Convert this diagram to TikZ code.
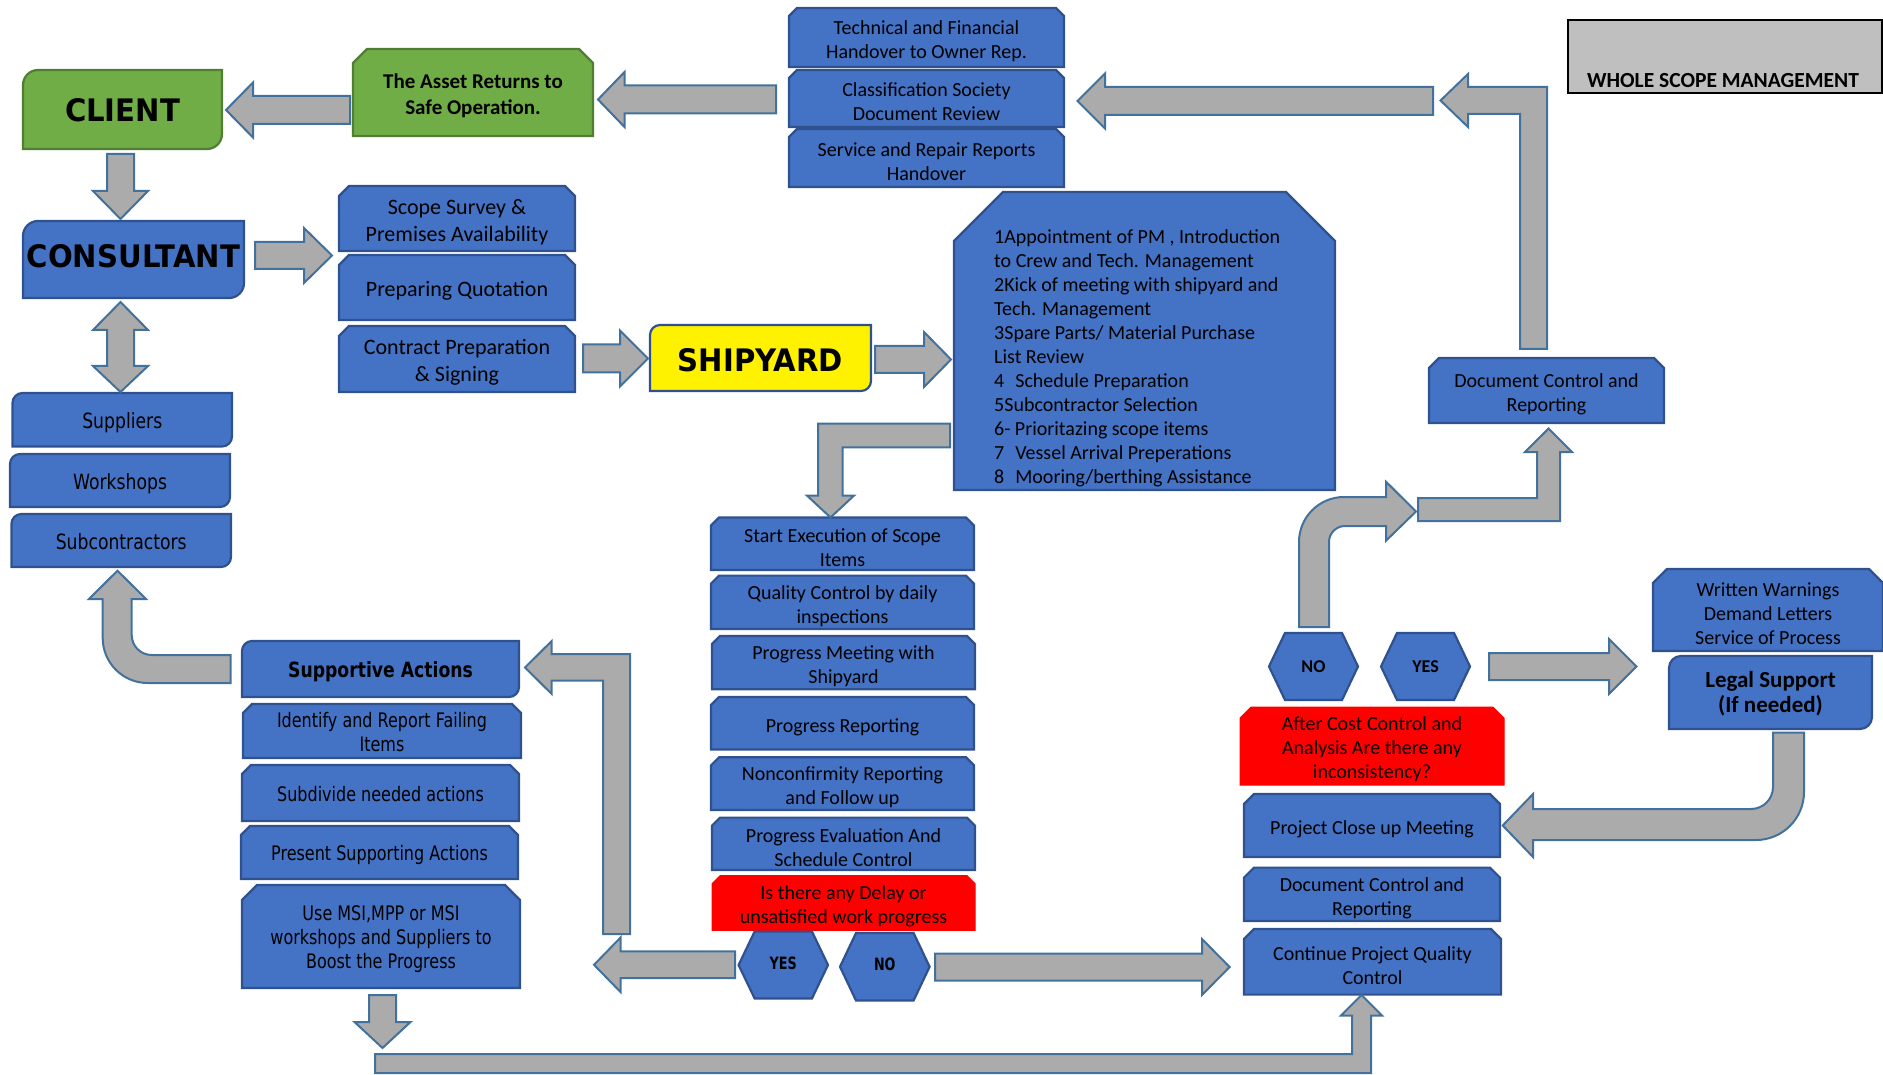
\documentclass[tikz,border=0pt]{standalone}
\usepackage{fontspec}
\usepackage{graphicx}
\setmainfont{Carlito}
\newfontfamily\vfont{DejaVu Sans}
\definecolor{bfill}{HTML}{4472C4}
\definecolor{bdraw}{HTML}{2F528F}
\definecolor{gfill}{HTML}{70AD47}
\definecolor{gdraw}{HTML}{507E32}
\definecolor{afill}{HTML}{ABABAB}
\definecolor{adraw}{HTML}{41719C}
\definecolor{wgray}{HTML}{BFBFBF}
\newcommand\sqz[2][0.8]{\scalebox{#1}[1]{\begin{tabular}{@{}c@{}}#2\end{tabular}}}
% snipped-top box: name x1 y1 x2 y2 snip shapestyle textstyle text
\newcommand\snipbox[9]{%
 \draw[#7] (#2,#5) -- (#2,#3+#6) -- (#2+#6,#3) -- (#4-#6,#3) -- (#4,#3+#6) -- (#4,#5) -- cycle;
 \node[txt,#8] (#1) at ({(#2+#4)/2},{(#3+#5)/2}) {#9};}
% round-diagonal box
\newcommand\rdbox[9]{%
 \draw[#7] (#2,#5) -- (#2,#3+#6) .. controls (#2,#3+0.4477*#6) and (#2+0.4477*#6,#3) .. (#2+#6,#3) -- (#4,#3) -- (#4,#5-#6) .. controls (#4,#5-0.4477*#6) and (#4-0.4477*#6,#5) .. (#4-#6,#5) -- cycle;
 \node[txt,#8] (#1) at ({(#2+#4)/2},{(#3+#5)/2}) {#9};}
% hexagon
\newcommand\hexbox[8]{%
 \draw[bbox] (#2,{(#3+#5)/2}) -- (#2+#6,#3) -- (#4-#6,#3) -- (#4,{(#3+#5)/2}) -- (#4-#6,#5) -- (#2+#6,#5) -- cycle;
 \node[txt,yshift=3.6pt,#7] (#1) at ({(#2+#4)/2},{(#3+#5)/2}) {#8};}
% block arrows: tail, tip, centre, shaft half, head half, head length
\newcommand\blkR[6]{\draw[blk] (#1,#3-#4) -- (#2-#6,#3-#4) -- (#2-#6,#3-#5) -- (#2,#3) -- (#2-#6,#3+#5) -- (#2-#6,#3+#4) -- (#1,#3+#4) -- cycle;}
\newcommand\blkL[6]{\draw[blk] (#1,#3-#4) -- (#2+#6,#3-#4) -- (#2+#6,#3-#5) -- (#2,#3) -- (#2+#6,#3+#5) -- (#2+#6,#3+#4) -- (#1,#3+#4) -- cycle;}
\newcommand\blkD[6]{\draw[blk] (#3-#4,#1) -- (#3-#4,#2-#6) -- (#3-#5,#2-#6) -- (#3,#2) -- (#3+#5,#2-#6) -- (#3+#4,#2-#6) -- (#3+#4,#1) -- cycle;}
\begin{document}
\begin{tikzpicture}[x=1pt,y=-1pt,
 bbox/.style={fill=bfill,draw=bdraw,line width=2.2pt,line join=miter},
 gbox/.style={fill=gfill,draw=gdraw,line width=2.2pt},
 rbox/.style={fill=red,draw=red,line width=1pt},
 ybox/.style={fill=yellow,draw=bdraw,line width=2.2pt},
 blk/.style={fill=afill,draw=adraw,line width=2pt,line join=miter},
 txt/.style={inner sep=0pt,align=center,yshift=-3.6pt,font=\fontsize{20}{24}\selectfont},
 calS/.style={font=\fontsize{22}{27}\selectfont},
 ver/.style={font=\vfont\fontsize{20}{24}\selectfont},
 verS/.style={font=\vfont\fontsize{21}{25}\selectfont},
 big/.style={font=\vfont\bfseries\fontsize{31}{36}\selectfont}]
\useasboundingbox (0,0) rectangle (1883,1075);
\clip (0,0) rectangle (1883,1075);

% ---- top row
\rdbox{client}{23}{70}{222}{149}{15}{gbox}{big,yshift=-1.2pt}{\sqz[0.94]{CLIENT}}
\snipbox{asset}{353}{49}{593}{136}{14}{gbox}{font=\bfseries\fontsize{21}{26}\selectfont}{The Asset Returns to\\Safe Operation.}
\snipbox{tech}{789}{8}{1064}{67}{8}{bbox}{}{Technical and Financial\\Handover to Owner Rep.}
\snipbox{class}{789}{70}{1064}{127}{8}{bbox}{}{Classification Society\\Document Review}
\snipbox{serv}{789}{129}{1064}{187}{8}{bbox}{}{Service and Repair Reports\\Handover}
\draw[fill=wgray,draw=black,line width=2.6pt] (1568,20) rectangle (1882,93);
\node[txt,yshift=2.4pt,font=\bfseries\fontsize{21.5}{26}\selectfont] (whole) at (1723,79) {WHOLE SCOPE MANAGEMENT};

% ---- consultant area
\rdbox{cons}{23}{221}{244}{298}{15}{bbox}{big,yshift=2.4pt}{\sqz[0.94]{CONSULTANT}}
\snipbox{scope}{339}{186}{575}{251}{10}{bbox}{calS}{Scope Survey \&\\Premises Availability}
\snipbox{quot}{339}{255}{575}{320}{10}{bbox}{calS}{Preparing Quotation}
\snipbox{contr}{339}{326}{575}{392}{10}{bbox}{calS}{Contract Preparation\\\& Signing}
\rdbox{ship}{650}{325}{871}{391}{10}{ybox}{big,yshift=-2.4pt}{\sqz[0.94]{SHIPYARD}}
\snipbox{doca}{1429}{358}{1664}{423}{10}{bbox}{}{Document Control and\\Reporting}

% big plan box
\draw[bbox] (954,490) -- (954,241) -- (1003,192) -- (1286,192) -- (1335,241) -- (1335,490) -- cycle;
\node[txt,yshift=2.4pt,anchor=west,align=left] (plan) at (994,357) {1Appointment of PM , Introduction\\to Crew and Tech. Management\\2Kick of meeting with shipyard and\\Tech. Management\\3Spare Parts/ Material Purchase\\List Review\\4\hspace{11pt}Schedule Preparation\\5Subcontractor Selection\\6- Prioritazing scope items\\7\hspace{11pt}Vessel Arrival Preperations\\8\hspace{11pt}Mooring/berthing Assistance};

% ---- suppliers
\rdbox{supp}{12.5}{393}{232}{446.5}{10}{bbox}{verS}{\sqz[0.82]{Suppliers}}
\rdbox{work}{10}{454}{230}{507}{10}{bbox}{verS}{\sqz[0.82]{Workshops}}
\rdbox{subc}{11.4}{514}{231}{567}{10}{bbox}{verS}{\sqz[0.82]{Subcontractors}}

% ---- supportive actions
\rdbox{supa}{242}{641}{519}{697}{10}{bbox}{font=\vfont\bfseries\fontsize{21}{25}\selectfont}{\sqz[0.82]{Supportive Actions}}
\snipbox{ident}{243}{704}{521}{758}{9}{bbox}{ver}{\sqz{Identify and Report Failing\\Items}}
\snipbox{subd}{242}{765}{519}{821}{9}{bbox}{ver}{\sqz{Subdivide needed actions}}
\snipbox{pres}{241}{826}{518}{879}{9}{bbox}{ver}{\sqz{Present Supporting Actions}}
\snipbox{msi}{242}{885}{520}{988}{15}{bbox}{ver}{\sqz{Use MSI,MPP or MSI\\workshops and Suppliers to\\Boost the Progress}}

% ---- centre column
\snipbox{start}{711}{517.5}{974}{570}{8}{bbox}{}{Start Execution of Scope\\Items}
\snipbox{qc}{711}{575.6}{974}{629}{8}{bbox}{}{Quality Control by daily\\inspections}
\snipbox{meet}{712}{636}{975}{689.3}{8}{bbox}{}{Progress Meeting with\\Shipyard}
\snipbox{prep}{711}{697}{974}{749.5}{8}{bbox}{}{Progress Reporting}
\snipbox{ncr}{711}{757.3}{974}{810}{8}{bbox}{}{Nonconfirmity Reporting\\and Follow up}
\snipbox{eval}{712}{817.6}{975}{870}{8}{bbox}{}{Progress Evaluation And\\Schedule Control}
\snipbox{delay}{712}{875.7}{975}{930.3}{8}{rbox}{}{Is there any Delay or\\unsatisfied work progress}
\hexbox{yesa}{738.6}{931.6}{828}{998.4}{16}{font=\vfont\bfseries\fontsize{17}{20}\selectfont}{\sqz[0.75]{YES}}
\hexbox{noa}{840}{933}{929.6}{1000.5}{16}{font=\vfont\bfseries\fontsize{17}{20}\selectfont}{\sqz[0.75]{NO}}

% ---- right column
\hexbox{nob}{1269}{633}{1358}{700}{16}{font=\bfseries\fontsize{18}{20}\selectfont}{NO}
\hexbox{yesb}{1381}{633}{1470}{700}{16}{font=\bfseries\fontsize{18}{20}\selectfont}{YES}
\snipbox{cost}{1240}{707}{1504}{785}{11}{rbox}{}{After Cost Control and\\Analysis Are there any\\inconsistency?}
\snipbox{close}{1244}{794}{1500}{857}{10}{bbox}{}{Project Close up Meeting}
\snipbox{docb}{1244}{867.6}{1500}{921}{10}{bbox}{}{Document Control and\\Reporting}
\snipbox{cont}{1244}{929}{1501}{994.6}{10}{bbox}{}{Continue Project Quality\\Control}
\snipbox{warn}{1653}{569}{1883}{651}{14}{bbox}{}{Written Warnings\\Demand Letters\\Service of Process}
\rdbox{legal}{1669}{656}{1872}{729}{12}{bbox}{yshift=2.4pt,font=\bfseries\fontsize{23}{25}\selectfont}{Legal Support\\(If needed)}

% ---- block arrows
\blkL{350}{226}{110}{14}{27.5}{27}
\blkL{776}{598}{99.5}{14}{27.5}{26.5}
\blkL{1433}{1077.5}{101}{14}{27.5}{27.5}
\draw[blk] (1520,349) -- (1520,114) -- (1468,114) -- (1468,127) -- (1440.5,100.5) -- (1468,74) -- (1468,87) -- (1547,87) -- (1547,349) -- cycle;
\blkD{154}{219}{120.5}{13.5}{27.5}{28}
\draw[blk] (107,330) -- (93,330) -- (120.5,302) -- (148,330) -- (134,330) -- (134,366) -- (148,366) -- (120.5,392) -- (93,366) -- (107,366) -- cycle;
\blkR{255}{332}{255.5}{13.5}{27.5}{28}
\blkR{583}{648}{358.5}{14}{28}{28}
\blkR{875}{951}{359.5}{13.5}{27.5}{27}
\draw[blk] (950,423.7) -- (818,423.7) -- (818,495.6) -- (807,495.6) -- (830.5,517.5) -- (854,495.6) -- (842.6,495.6) -- (842.6,447.4) -- (950,447.4) -- cycle;
\blkL{735}{594}{964.8}{13.4}{27.2}{26.5}
\draw[blk] (603,934) -- (603,680.7) -- (551.7,680.7) -- (551.7,694) -- (525,667.5) -- (551.7,641) -- (551.7,654) -- (630,654) -- (630,934) -- cycle;
\blkR{935}{1229.6}{967}{13.5}{28}{27.6}
\draw[blk] (230.7,655) -- (151.7,655) .. controls (140.65,655) and (131.7,646.05) .. (131.7,635) -- (131.7,599) -- (146,599) -- (117.5,570.7) -- (89,599) -- (102.7,599) -- (102.7,638) .. controls (102.7,662.85) and (122.85,683) .. (147.7,683) -- (230.7,683) -- cycle;
\draw[blk] (1299,627) -- (1299,542) .. controls (1299,517.15) and (1319.15,497) .. (1344,497) -- (1386,497) -- (1386,481.7) -- (1416,511.5) -- (1386,540.7) -- (1386,526) -- (1345,526) .. controls (1336.2,526) and (1329,533.2) .. (1329,542) -- (1329,627) -- cycle;
\draw[blk] (1418,498) -- (1537,498) -- (1537,452) -- (1525,452) -- (1548.5,428.6) -- (1572,452) -- (1560,452) -- (1560,521) -- (1418,521) -- cycle;
\blkR{1489}{1636.5}{666.5}{13.5}{27.5}{27.5}
\draw[blk] (1773,732.7) -- (1804,732.7) -- (1804,792) .. controls (1804,818.5) and (1782.5,840) .. (1756,840) -- (1533,840) -- (1533,857) -- (1502.7,825.5) -- (1533,794) -- (1533,809) -- (1751,809) .. controls (1763.15,809) and (1773,799.15) .. (1773,787) -- cycle;
\blkD{995}{1048}{382.5}{13.5}{28}{26}
\draw[blk] (375,1054) -- (1352,1054) -- (1352,1015.5) -- (1341,1015.5) -- (1361.5,995) -- (1382,1015.5) -- (1371,1015.5) -- (1371,1073) -- (375,1073) -- cycle;
\end{tikzpicture}
\end{document}
